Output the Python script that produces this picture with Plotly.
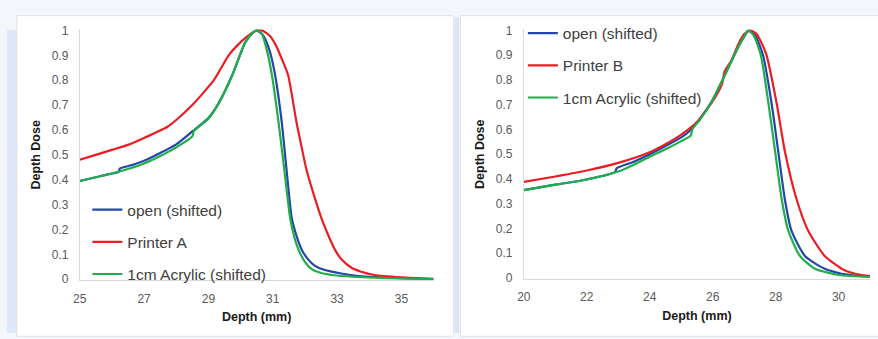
import plotly.graph_objects as go

# ---------------- data (left panel: Printer A) ----------------
a_open_x = [25, 25.5, 26, 26.2, 26.25, 26.6, 27, 27.5, 28, 28.5, 29, 29.33, 29.74, 30.15, 30.4, 30.5,
            30.7, 30.9, 31.07, 31.28, 31.43, 31.59, 31.75, 31.9, 32.1, 32.3, 32.6, 33.13, 33.6, 34, 35, 36]
a_open_y = [0.395, 0.41, 0.425, 0.43, 0.445, 0.458, 0.476, 0.507, 0.542, 0.594, 0.648, 0.71, 0.82, 0.953, 0.993, 1.0,
            0.98, 0.92, 0.824, 0.632, 0.44, 0.247, 0.17, 0.119, 0.08, 0.055, 0.038, 0.023, 0.014, 0.01, 0.004, 0.001]

a_printer_x = [25, 25.5, 26, 26.5, 27, 27.73, 28, 28.5, 29.17, 29.4, 29.63, 29.9, 30.2, 30.45, 30.66,
               30.9, 31.1, 31.3, 31.48, 31.74, 31.9, 32.05, 32.3, 32.51, 32.75, 32.95, 33.15, 33.45, 33.75,
               34.16, 35, 36]
a_printer_y = [0.48, 0.50, 0.52, 0.54, 0.568, 0.613, 0.64, 0.70, 0.80, 0.85, 0.90, 0.94, 0.975, 0.997, 1.0,
               0.98, 0.94, 0.88, 0.82, 0.63, 0.53, 0.44, 0.33, 0.247, 0.17, 0.115, 0.078, 0.046, 0.03,
               0.017, 0.008, 0.002]

a_acryl_x = [25, 25.5, 26, 26.5, 27, 27.5, 28, 28.5, 28.55, 29, 29.33, 29.74, 30.15, 30.4, 30.5,
             30.65, 30.8, 30.97, 31.18, 31.36, 31.54, 31.67, 31.8, 32.0, 32.2, 32.5, 32.9, 33.5, 34, 35, 36]
a_acryl_y = [0.395, 0.41, 0.425, 0.443, 0.465, 0.495, 0.53, 0.574, 0.596, 0.645, 0.71, 0.82, 0.953, 0.993, 1.0,
             0.99, 0.93, 0.824, 0.632, 0.44, 0.247, 0.17, 0.119, 0.07, 0.042, 0.025, 0.016, 0.01, 0.007, 0.003, 0.001]

# ---------------- data (right panel: Printer B) ----------------
b_open_x = [20, 21, 22, 22.9, 22.95, 23.5, 24, 24.5, 25, 25.3, 25.6, 26, 26.5, 26.8, 27.0, 27.15,
            27.35, 27.6, 27.87, 28.08, 28.29, 28.5, 28.93, 29.56, 30, 30.5, 31]
b_open_y = [0.355, 0.377, 0.398, 0.428, 0.443, 0.47, 0.50, 0.533, 0.568, 0.598, 0.645, 0.72, 0.85, 0.93, 0.975, 1.0,
            0.98, 0.9, 0.707, 0.514, 0.32, 0.192, 0.089, 0.037, 0.02, 0.01, 0.005]

b_printer_x = [20, 21, 22, 23, 24, 24.5, 25, 25.5, 26, 26.3, 26.38, 26.6, 26.8, 27.0, 27.2,
               27.4, 27.55, 27.71, 28.03, 28.29, 28.66, 29.03, 29.56, 30.19, 30.6, 31]
b_printer_y = [0.388, 0.41, 0.434, 0.465, 0.508, 0.54, 0.579, 0.63, 0.714, 0.785, 0.835, 0.88, 0.94, 0.985, 1.0,
               0.985, 0.95, 0.9, 0.707, 0.514, 0.32, 0.192, 0.089, 0.031, 0.015, 0.008]

b_acryl_x = [20, 21, 22, 23, 23.5, 24, 24.5, 25, 25.3, 25.35, 25.6, 26, 26.5, 26.8, 27.0, 27.12,
             27.3, 27.53, 27.77, 27.98, 28.19, 28.4, 28.77, 29.25, 30, 30.5, 31]
b_acryl_y = [0.355, 0.377, 0.398, 0.43, 0.458, 0.49, 0.52, 0.553, 0.575, 0.6, 0.64, 0.72, 0.85, 0.93, 0.975, 1.0,
             0.98, 0.9, 0.707, 0.514, 0.32, 0.192, 0.089, 0.037, 0.012, 0.007, 0.004]

left_ticks = [25, 27, 29, 31, 33, 35]
right_ticks = [20, 22, 24, 26, 28, 30]
y_ticks = [0, 0.1, 0.2, 0.3, 0.4, 0.5, 0.6, 0.7, 0.8, 0.9, 1]

names_a = ["open (shifted)", "Printer A", "1cm Acrylic (shifted)"]
names_b = ["open (shifted)", "Printer B", "1cm Acrylic (shifted)"]

BLUE = "#2346a8"
RED = "#ec1c24"
GREEN = "#1fae4b"
W, H = 878, 339
FONT = "Liberation Sans, Arial, sans-serif"

fig = go.Figure()

def add(x, y, name, color, xa, ya, legend, grp):
    fig.add_trace(go.Scatter(
        x=x, y=y, name=name, mode="lines",
        line=dict(color=color, width=2.2, shape="spline", smoothing=0.6),
        xaxis=xa, yaxis=ya, legend=legend, legendgroup=grp, hoverinfo="skip"))

add(a_open_x, a_open_y, names_a[0], BLUE, "x", "y", "legend", "a1")
add(a_printer_x, a_printer_y, names_a[1], RED, "x", "y", "legend", "a2")
add(a_acryl_x, a_acryl_y, names_a[2], GREEN, "x", "y", "legend", "a3")
add(b_open_x, b_open_y, names_b[0], BLUE, "x2", "y2", "legend2", "b1")
add(b_printer_x, b_printer_y, names_b[1], RED, "x2", "y2", "legend2", "b2")
add(b_acryl_x, b_acryl_y, names_b[2], GREEN, "x2", "y2", "legend2", "b3")

def px(v):
    return v / W

def py(v):
    return 1 - v / H

axis_common = dict(showgrid=False, zeroline=False, showline=True, linecolor="#d9d9d9", linewidth=1,
                   ticks="", tickfont=dict(family=FONT, size=12, color="#595959"),
                   title_font=dict(family=FONT, size=12.5, color="#1a1a1a"))

xa_title = dict(text="<b>Depth (mm)</b>", standoff=7)
ya_title = dict(text="<b>Depth Dose</b>", standoff=8)

fig.update_layout(
    width=W, height=H, margin=dict(l=0, r=0, t=0, b=0),
    paper_bgcolor="#f4f6fb", plot_bgcolor="rgba(0,0,0,0)",
    showlegend=True,
    xaxis=dict(domain=[px(73.3), px(430)], range=[25, 36], tickvals=left_ticks,
               anchor="y", title=xa_title, ticklabelstandoff=7, **axis_common),
    yaxis=dict(domain=[py(284.3), py(24.3)], range=[-0.004, 1.004], tickvals=y_ticks,
               anchor="x", title=ya_title, ticklabelstandoff=8, **axis_common),
    xaxis2=dict(domain=[px(521), px(870)], range=[20, 31], tickvals=right_ticks,
                anchor="y2", title=xa_title, ticklabelstandoff=7, **axis_common),
    yaxis2=dict(domain=[py(283), py(24.3)], range=[-0.004, 1.004], tickvals=y_ticks,
                anchor="x2", title=ya_title, ticklabelstandoff=8, **axis_common),
    legend=dict(x=px(81), y=py(194), xanchor="left", yanchor="top",
                bgcolor="rgba(0,0,0,0)", font=dict(family=FONT, size=15.5, color="#404040"),
                traceorder="grouped", tracegroupgap=9, itemwidth=30),
    legend2=dict(x=px(520), y=py(11), xanchor="left", yanchor="top",
                 bgcolor="rgba(0,0,0,0)", font=dict(family=FONT, size=15.5, color="#404040"),
                 traceorder="grouped", tracegroupgap=9, itemwidth=30),
    shapes=[
        dict(type="rect", xref="paper", yref="paper", x0=0, x1=px(10), y0=0, y1=py(25),
             fillcolor="#dfe8f8", line_width=0, layer="below"),
        dict(type="rect", xref="paper", yref="paper", x0=px(10), x1=px(450), y0=-0.01, y1=py(10),
             fillcolor="white", line=dict(color="#e2e2e2", width=1), layer="below"),
        dict(type="rect", xref="paper", yref="paper", x0=px(451), x1=px(456), y0=0, y1=py(12),
             fillcolor="#dbe5f6", line_width=0, layer="below"),
        dict(type="rect", xref="paper", yref="paper", x0=px(457), x1=1.01, y0=-0.01, y1=py(10),
             fillcolor="white", line=dict(color="#e2e2e2", width=1), layer="below"),
    ],
)

fig.write_html("out.html")
